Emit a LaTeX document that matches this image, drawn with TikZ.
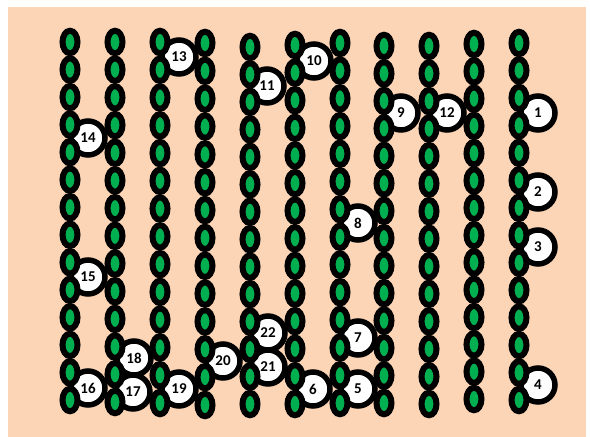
\documentclass[tikz,border=0pt]{standalone}
\usepackage{fontspec}
\setmainfont{Carlito}
\usetikzlibrary{shapes.geometric}
\definecolor{peach}{HTML}{FBD5B5}
\definecolor{leaf}{HTML}{00B050}
\begin{document}
\begin{tikzpicture}[x=1pt,y=-1pt,
  bead/.style={ellipse, draw=black, fill=leaf, line width=6pt, minimum width=15pt, minimum height=22.5pt, inner sep=0pt},
  tag/.style={circle, draw=black, fill=white, line width=5.5pt, minimum size=34pt, inner sep=0pt, font=\bfseries\fontsize{15}{15}\selectfont}]
\fill[white] (0,0) rectangle (590,437);
\fill[peach] (8,7) rectangle (586,437);
\useasboundingbox (0,0) rectangle (590,437);
% numbered markers
\node[tag] (n1) at (538,113) {1};
\node[tag] (n2) at (538,192) {2};
\node[tag] (n3) at (538,247) {3};
\node[tag] (n4) at (538,385) {4};
\node[tag] (n5) at (358,389) {5};
\node[tag] (n6) at (313,389) {6};
\node[tag] (n7) at (358,338) {7};
\node[tag] (n8) at (358,223) {8};
\node[tag] (n9) at (401,113) {9};
\node[tag] (n10) at (314,61) {10};
\node[tag] (n11) at (267,86) {11};
\node[tag] (n12) at (447,113) {12};
\node[tag] (n13) at (179,57) {13};
\node[tag] (n14) at (88,138) {14};
\node[tag] (n15) at (88,277) {15};
\node[tag] (n16) at (88,388) {16};
\node[tag] (n22) at (268,333) {22};
\node[tag] (n21) at (268,367) {21};
\node[tag] (n18) at (134,358) {18};
\node[tag] (n17) at (133,392) {17};
\node[tag] (n19) at (179,389) {19};
\node[tag] (n20) at (223,361) {20};
% bead columns
\foreach \c/\x/\t/\b in {1/70/42/400, 2/115/42/402, 3/160/42/403, 4/205/43/405, 5/250/47/404, 6/295/45/404, 7/340/43/403, 8/384/46/403, 9/429/46/404, 10/474/44/399, 11/519/43/400} {
  \foreach \r in {0,...,13} {
    \node[bead] (e\c-\r) at (\x, {\t+(\b-\t)*\r/13}) {};
  }
}
\end{tikzpicture}
\end{document}
